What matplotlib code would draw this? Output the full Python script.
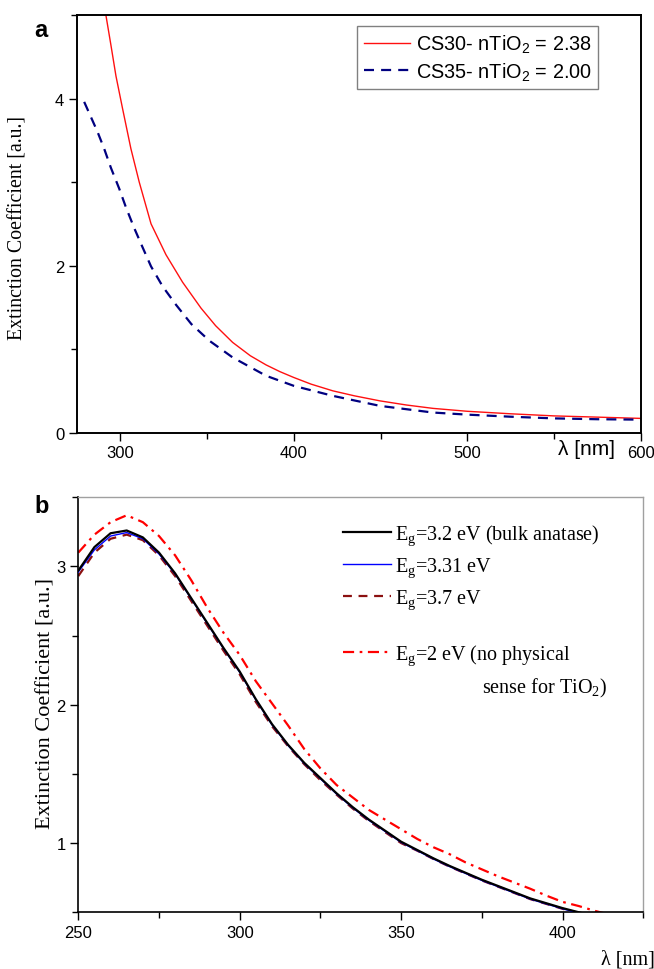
import numpy as np
import matplotlib
matplotlib.use("Agg")
import matplotlib.pyplot as plt
from matplotlib.ticker import MultipleLocator

plt.rcParams['mathtext.default'] = 'regular'
plt.rcParams['font.family'] = ['Liberation Sans', 'DejaVu Sans']

SANS = ['Liberation Sans', 'DejaVu Sans']
SERIF = ['Liberation Serif', 'DejaVu Serif']

# panel a: extinction coefficient of the two samples
wl_cs30 = [291.8, 294.7, 297.6, 301.4, 306.2, 311.0, 317.8, 326.4, 336.0, 346.6,
           355.0, 364.8, 375.0, 384.1, 392.0, 400.0, 410.0, 422.5, 435.0, 449.6,
           465.0, 480.2, 500.0, 525.0, 549.8, 575.0, 600.0]
k_cs30 = [5.00, 4.64, 4.27, 3.88, 3.40, 3.00, 2.50, 2.13, 1.80, 1.49,
          1.28, 1.08, 0.92, 0.81, 0.73, 0.66, 0.58, 0.50, 0.44, 0.38,
          0.33, 0.29, 0.255, 0.225, 0.20, 0.185, 0.17]
wl_cs35 = [279.3, 287.0, 290.8, 294.7, 299.5, 303.3, 308.1, 312.9, 317.8, 324.5, 332.2,
           341.0, 351.4, 364.8, 384.1, 400.0, 422.5, 449.6, 480.2, 500.0, 525.0, 550.0,
           575.0, 600.0]
k_cs35 = [3.96, 3.60, 3.40, 3.17, 2.92, 2.70, 2.45, 2.22, 1.99, 1.75, 1.53,
          1.30, 1.10, 0.90, 0.68, 0.56, 0.44, 0.32, 0.24, 0.215, 0.19, 0.17,
          0.16, 0.155]

# panel b: effect of the band gap
wl_b = [250, 255, 260, 265, 270, 275, 280, 285, 290, 295, 300, 305, 310, 315, 320,
        325, 330, 335, 340, 345, 350, 355, 360, 365, 370, 375, 380, 385, 390, 395,
        400, 405, 410, 415]
k_32 = [2.97, 3.14, 3.24, 3.26, 3.21, 3.10, 2.95, 2.77, 2.59, 2.41, 2.24, 2.04, 1.86,
        1.71, 1.58, 1.47, 1.36, 1.26, 1.17, 1.09, 1.01, 0.95, 0.89, 0.835, 0.785, 0.735,
        0.69, 0.645, 0.60, 0.565, 0.53, 0.50, 0.47, 0.44]
k_331 = [2.96, 3.12, 3.22, 3.245, 3.20, 3.09, 2.945, 2.765, 2.585, 2.405, 2.235, 2.035,
         1.855, 1.705, 1.575, 1.465, 1.355, 1.255, 1.165, 1.085, 1.005, 0.945, 0.885,
         0.83, 0.78, 0.73, 0.685, 0.64, 0.595, 0.56, 0.525, 0.495, 0.465, 0.435]
k_37 = [2.93, 3.10, 3.20, 3.23, 3.19, 3.08, 2.93, 2.75, 2.57, 2.39, 2.22, 2.02, 1.845,
        1.70, 1.57, 1.455, 1.35, 1.25, 1.16, 1.08, 1.00, 0.945, 0.885, 0.83, 0.78, 0.73,
        0.685, 0.64, 0.595, 0.56, 0.525, 0.495, 0.465, 0.435]
k_2 = [3.10, 3.23, 3.32, 3.37, 3.32, 3.22, 3.08, 2.90, 2.70, 2.52, 2.36, 2.17, 2.01,
       1.85, 1.68, 1.54, 1.42, 1.33, 1.24, 1.17, 1.10, 1.03, 0.97, 0.92, 0.86, 0.81,
       0.76, 0.715, 0.67, 0.62, 0.575, 0.545, 0.51, 0.48]

fig = plt.figure(figsize=(6.54, 9.70), dpi=100)


def style_ticks(ax):
    ax.tick_params(which='both', direction='out', top=False, right=False,
                   labelsize=12, pad=3)
    ax.tick_params(which='major', length=6, width=1.0)
    ax.tick_params(which='minor', length=4, width=1.0)
    for lab in ax.get_xticklabels() + ax.get_yticklabels():
        lab.set_family(SANS)


# ---- panel a ----
ax1 = fig.add_axes([0.1173, 0.553, 0.8628, 0.4305])
ax1.plot(wl_cs30, k_cs30, color='#ff1010', lw=1.0,
         label='CS30- nTiO$_2$ = 2.38')
ax1.plot(wl_cs35, k_cs35, color='#000080', lw=1.6, dashes=(4.5, 3.2),
         label='CS35- nTiO$_2$ = 2.00')
ax1.set_xlim(275, 600)
ax1.set_ylim(0, 5)
ax1.xaxis.set_major_locator(MultipleLocator(100))
ax1.xaxis.set_minor_locator(MultipleLocator(50))
ax1.yaxis.set_major_locator(MultipleLocator(2))
ax1.yaxis.set_minor_locator(MultipleLocator(1))
style_ticks(ax1)
for s in ax1.spines.values():
    s.set_linewidth(1.4)
ax1.set_ylabel('Extinction Coefficient [a.u.]', family=SERIF, fontsize=14.3, va='center')
ax1.yaxis.set_label_coords(-0.104, 0.492)
ax1.set_xlabel('λ [nm]', family=SANS, fontsize=15, ha='left', va='center')
ax1.xaxis.set_label_coords(0.853, -0.038)
leg = ax1.legend(loc='upper left', bbox_to_anchor=(0.4967, 0.9737),
                 prop={'family': SANS, 'size': 14.3},
                 handlelength=2.3, handletextpad=0.3, labelspacing=0.25,
                 borderpad=0.35, borderaxespad=0, fancybox=False, framealpha=1)
leg.get_frame().set_edgecolor('#808080')
leg.get_frame().set_linewidth(1.0)
fig.text(0.063, 0.969, 'a', family=SANS, fontsize=17, fontweight='bold',
         ha='center', va='center')

# ---- panel b ----
ax2 = fig.add_axes([0.1197, 0.0585, 0.8639, 0.4278])
l1, = ax2.plot(wl_b, k_32, color='black', lw=1.6, label='E$_g$=3.2 eV (bulk anatase)', zorder=4)
l2, = ax2.plot(wl_b, k_331, color='#0000ff', lw=1.0, label='E$_g$=3.31 eV', zorder=3)
l3, = ax2.plot(wl_b, k_37, color='#8b1010', lw=1.6, dashes=(4, 3), label='E$_g$=3.7 eV', zorder=2)
l4, = ax2.plot(wl_b, k_2, color='#ff0000', lw=1.6, dashes=(5, 2.5, 1.2, 2.5),
               label='E$_g$=2 eV (no physical', zorder=1)
ax2.set_xlim(250, 425)
ax2.set_ylim(0.5, 3.5)
ax2.xaxis.set_major_locator(MultipleLocator(50))
ax2.xaxis.set_minor_locator(MultipleLocator(25))
ax2.yaxis.set_major_locator(MultipleLocator(1))
ax2.yaxis.set_minor_locator(MultipleLocator(0.5))
style_ticks(ax2)
for side in ['left', 'bottom']:
    ax2.spines[side].set_linewidth(1.2)
for side in ['top', 'right']:
    ax2.spines[side].set_color('#a0a0a0')
    ax2.spines[side].set_linewidth(1.0)
ax2.set_ylabel('Extinction Coefficient [a.u.]', family=SERIF, fontsize=16, va='center')
ax2.yaxis.set_label_coords(-0.058, 0.505)
ax2.set_xlabel('λ [nm]', family=SERIF, fontsize=14.5, ha='left', va='center')
ax2.xaxis.set_label_coords(0.926, -0.1125)

lp = dict(prop={'family': SERIF, 'size': 14.5}, frameon=False, handlelength=2.4,
          handletextpad=0.2, borderpad=0, borderaxespad=0)
leg1 = ax2.legend(handles=[l1, l2, l3], loc='upper left', bbox_to_anchor=(0.4685, 0.940),
                  labelspacing=0.42, **lp)
ax2.add_artist(leg1)
ax2.legend(handles=[l4], loc='upper left', bbox_to_anchor=(0.4685, 0.650), **lp)
ax2.text(0.714, 0.530, 'sense for TiO$_2$)', transform=ax2.transAxes,
         family=SERIF, fontsize=14.5, ha='left', va='baseline')
fig.text(0.063, 0.4775, 'b', family=SANS, fontsize=17, fontweight='bold',
         ha='center', va='center')

fig.savefig('out.png', dpi=100)
